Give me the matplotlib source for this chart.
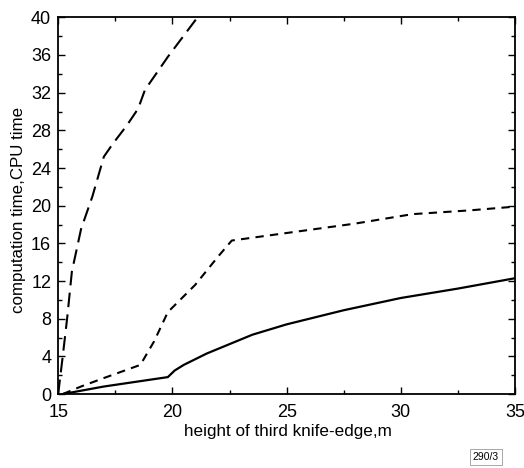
import matplotlib
matplotlib.use('Agg')
import matplotlib.pyplot as plt
from matplotlib.ticker import MultipleLocator

plt.rcParams['font.family'] = ['Liberation Sans', 'DejaVu Sans']

# long dashed curve
x_long = [15.0, 15.2, 15.4, 15.6, 16.0, 16.5, 17.0, 17.4, 18.0, 18.5, 18.8, 19.8, 21.1]
y_long = [0.0, 4.0, 8.2, 13.0, 17.5, 21.0, 25.2, 26.6, 28.5, 30.3, 32.3, 35.8, 40.0]

# short dashed curve
x_short = [15.2, 16.0, 17.0, 18.6, 19.2, 19.8, 21.0, 22.0, 22.6, 25.0, 28.0, 30.5, 33.0, 35.0]
y_short = [0.0, 0.8, 1.7, 3.1, 5.6, 8.7, 11.6, 14.6, 16.3, 17.1, 18.1, 19.1, 19.5, 19.9]

# solid curve
x_solid = [15.2, 17.0, 19.8, 20.1, 20.5, 21.5, 22.5, 23.5, 25.0, 27.5, 30.0, 32.5, 35.0]
y_solid = [0.0, 0.8, 1.8, 2.5, 3.1, 4.3, 5.3, 6.3, 7.4, 8.9, 10.2, 11.2, 12.3]

fig = plt.figure(figsize=(5.24, 4.68), dpi=100)
ax = fig.add_axes([0.111, 0.158, 0.872, 0.805])

ax.plot(x_long, y_long, color='black', lw=1.5, dashes=(7, 3.5))
ax.plot(x_short, y_short, color='black', lw=1.5, dashes=(4, 3))
ax.plot(x_solid, y_solid, color='black', lw=1.6)

ax.set_xlim(15, 35)
ax.set_ylim(0, 40)
ax.xaxis.set_major_locator(MultipleLocator(5))
ax.xaxis.set_minor_locator(MultipleLocator(2.5))
ax.yaxis.set_major_locator(MultipleLocator(4))
ax.yaxis.set_minor_locator(MultipleLocator(2))
ax.tick_params(which='both', direction='in', top=True, right=True, labelsize=13)
ax.tick_params(which='major', length=5, width=1)
ax.tick_params(which='minor', length=3, width=1)
ax.tick_params(axis='x', pad=7)
ax.tick_params(axis='y', pad=5)
for s in ax.spines.values():
    s.set_linewidth(1.3)

ax.set_xlabel('height of third knife-edge,m', fontsize=12.3)
ax.set_ylabel('computation time,CPU time', fontsize=12.2)
ax.xaxis.set_label_coords(0.503, -0.08)
ax.yaxis.set_label_coords(-0.07, 0.49)

fig.text(0.927, 0.024, '290/3', fontsize=7.5, ha='center', va='center',
         bbox=dict(boxstyle='square,pad=0.3', fc='white', ec='#999999', lw=0.6))

fig.savefig('out.png', dpi=100)
